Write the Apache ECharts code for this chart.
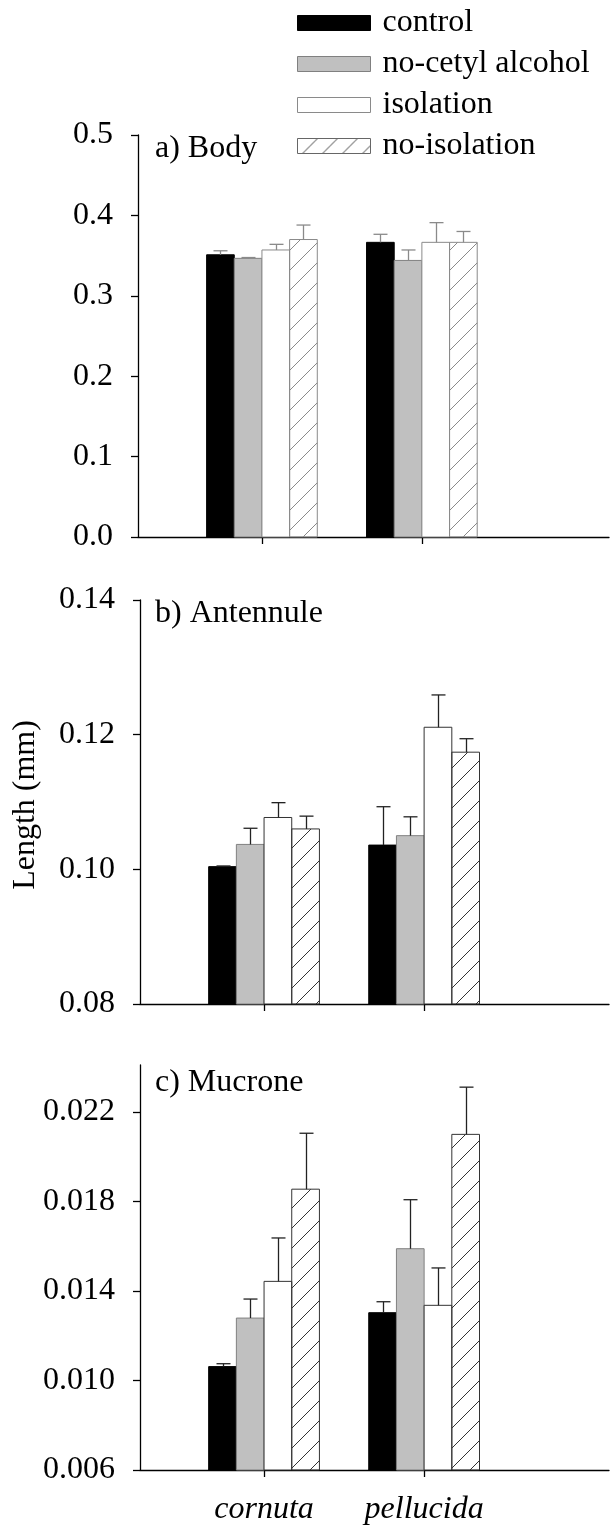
<!DOCTYPE html>
<html>
<head>
<meta charset="utf-8">
<script src="https://cdn.jsdelivr.net/npm/echarts@6/dist/echarts.min.js"></script>
<style>
html,body{margin:0;padding:0;background:#fff;}
#chart{width:613px;height:1527px;}
</style>
</head>
<body>
<div id="chart"></div>
<script>
// ---------- data ----------
const categories = ['cornuta', 'pellucida'];
const groupPos = [1, 2];
const treatments = ['control', 'no-cetyl alcohol', 'isolation', 'no-isolation'];

// a) Body  (mean per treatment: [cornuta, pellucida])
const bodyMean = [[0.351, 0.3665], [0.3466, 0.344], [0.357, 0.3665], [0.370, 0.3665]];
const bodySE   = [[0.005, 0.010], [0.001, 0.013], [0.007, 0.0245], [0.018, 0.0135]];
// b) Antennule
const antMean  = [[0.1004, 0.1036], [0.1037, 0.1050], [0.1077, 0.1211], [0.1060, 0.1174]];
const antSE    = [[0.0001, 0.0057], [0.0024, 0.0028], [0.0022, 0.0048], [0.0019, 0.0020]];
// c) Mucrone
const mucMean  = [[0.01062, 0.01303], [0.01279, 0.01589], [0.01443, 0.01336], [0.01855, 0.02100]];
const mucSE    = [[0.00013, 0.00049], [0.00085, 0.00219], [0.00194, 0.00167], [0.0025, 0.00211]];

// tick labels
const bodyTicks = [0.0, 0.1, 0.2, 0.3, 0.4, 0.5];
const antTicks  = [0.08, 0.10, 0.12, 0.14];
const mucTicks  = [0.006, 0.010, 0.014, 0.018, 0.022];

const panelTitles = ['a) Body', 'b) Antennule', 'c) Mucrone'];

// ---------- styling ----------
const FONT = "'Liberation Serif', 'Times New Roman', serif";
const BAR_W = 0.173;

function makeHatch(color) {
  const c = document.createElement('canvas');
  c.width = 20; c.height = 20;
  const g = c.getContext('2d');
  g.strokeStyle = color; g.lineWidth = 1;
  g.beginPath();
  g.moveTo(0, 20); g.lineTo(20, 0);
  g.moveTo(-2, 2); g.lineTo(2, -2);
  g.moveTo(18, 22); g.lineTo(22, 18);
  g.stroke();
  return c;
}

const panels = [
  {mean: bodyMean, se: bodySE, ticks: bodyTicks, min: 0, max: 0.5, dec: 1,
   grid: {left: 138, top: 135, height: 402, right: 4}, xmax: 3.17, stroke: '#8a8a8a', err: '#8a8a8a'},
  {mean: antMean, se: antSE, ticks: antTicks, min: 0.08, max: 0.14, dec: 2,
   grid: {left: 140, top: 600, height: 404, right: 4}, xmax: 3.155, stroke: '#333', err: '#222'},
  {mean: mucMean, se: mucSE, ticks: mucTicks, min: 0.006, max: 0.0241, dec: 3,
   grid: {left: 140, top: 1065, height: 405, right: 4}, xmax: 3.155, stroke: '#333', err: '#222'}
];

function fillFor(t, stroke) {
  if (t === 0) return {fill: '#000', stroke: '#000'};
  if (t === 1) return {fill: '#c0c0c0', stroke: '#808080'};
  if (t === 2) return {fill: '#fff', stroke: stroke};
  return {fill: {image: makeHatch(stroke), repeat: 'repeat'}, stroke: stroke};
}

function barRender(t, style) {
  return function (params, api) {
    const cs = params.coordSys;
    const x = api.value(0), v = api.value(1);
    const top = api.coord([x, v]);
    const w = api.size([BAR_W, 0])[0];
    const cx = top[0] + (t - 1.5) * w;
    const bottom = cs.y + cs.height;
    return {
      type: 'rect',
      shape: {x: cx - w / 2, y: top[1], width: w, height: bottom - top[1]},
      style: {fill: style.fill, stroke: style.stroke, lineWidth: 1}
    };
  };
}

function errRender(t, color) {
  return function (params, api) {
    const x = api.value(0), v = api.value(1), se = api.value(2);
    const top = api.coord([x, v]);
    const hi = api.coord([x, v + se]);
    const w = api.size([BAR_W, 0])[0];
    const cx = Math.round(top[0] + (t - 1.5) * w) + 0.5;
    return {
      type: 'group',
      children: [
        {type: 'line', shape: {x1: cx, y1: top[1], x2: cx, y2: hi[1]}, style: {stroke: color, lineWidth: 1.3}},
        {type: 'line', shape: {x1: cx - 7, y1: hi[1], x2: cx + 7, y2: hi[1]}, style: {stroke: color, lineWidth: 1.3}}
      ]
    };
  };
}

const grids = [], xAxes = [], yAxes = [], series = [], graphics = [];

panels.forEach((p, i) => {
  grids.push(p.grid);
  xAxes.push({
    type: 'value', gridIndex: i, min: 0.225, max: p.xmax,
    axisLine: {show: true, onZero: false, lineStyle: {color: '#000', width: 1.3}},
    axisTick: {show: true, customValues: groupPos, length: 7, inside: false, lineStyle: {color: '#000', width: 1.3}},
    axisLabel: {show: i === 2, customValues: groupPos, margin: 24,
      formatter: v => categories[groupPos.indexOf(v)],
      fontFamily: FONT, fontSize: 32, fontStyle: 'italic', color: '#000'},
    splitLine: {show: false}
  });
  yAxes.push({
    type: 'value', gridIndex: i, min: p.min, max: p.max,
    axisLine: {show: true, lineStyle: {color: '#000', width: 1.3}},
    axisTick: {show: true, customValues: p.ticks, length: 7, inside: false, lineStyle: {color: '#000', width: 1.3}},
    axisLabel: {customValues: p.ticks, margin: 25, formatter: v => v.toFixed(p.dec),
      fontFamily: FONT, fontSize: 32, color: '#000'},
    splitLine: {show: false}
  });
  treatments.forEach((name, t) => {
    const st = fillFor(t, p.stroke);
    series.push({
      type: 'custom', name: name, xAxisIndex: i, yAxisIndex: i,
      itemStyle: {color: t === 3 ? '#fff' : st.fill},
      renderItem: barRender(t, st),
      data: groupPos.map((x, g) => [x, p.mean[t][g]]),
      z: 2
    });
  });
  treatments.forEach((name, t) => {
    series.push({
      type: 'custom', name: name + ' SE', xAxisIndex: i, yAxisIndex: i,
      renderItem: errRender(t, p.err),
      data: groupPos.map((x, g) => [x, p.mean[t][g], p.se[t][g]]),
      z: 3
    });
  });
});

const titleY = [149, 614, 1083];
panelTitles.forEach((txt, i) => {
  graphics.push({
    type: 'text', left: 155, top: titleY[i] - 16,
    style: {text: txt, font: "32px " + FONT, fill: '#000'}
  });
});
graphics.push({
  type: 'text', x: 26, y: 805, rotation: Math.PI / 2,
  style: {text: 'Length (mm)', font: "32px " + FONT, fill: '#000', align: 'center', verticalAlign: 'middle'}
});

const legendStroke = '#8a8a8a';
const legendData = treatments.map((n, t) => {
  let s;
  if (t === 0) s = {color: '#000', borderColor: '#000', borderWidth: 1};
  else if (t === 1) s = {color: '#c0c0c0', borderColor: '#808080', borderWidth: 1};
  else if (t === 2) s = {color: '#fff', borderColor: legendStroke, borderWidth: 1};
  else s = {color: {image: makeHatch('#444'), repeat: 'repeat'}, borderColor: '#666', borderWidth: 1};
  return {name: n, icon: 'rect', itemStyle: s};
});

const chart = echarts.init(document.getElementById('chart'), null, {renderer: 'canvas'});
chart.setOption({
  animation: false,
  backgroundColor: '#fff',
  grid: grids,
  xAxis: xAxes,
  yAxis: yAxes,
  legend: {
    orient: 'vertical', left: 292, top: 2,
    itemWidth: 73, itemHeight: 15, itemGap: 9,
    data: legendData,
    textStyle: {fontFamily: FONT, fontSize: 32, color: '#000', lineHeight: 32, padding: [0, 0, 0, 7]}
  },
  graphic: graphics,
  series: series
});
</script>
</body>
</html>
